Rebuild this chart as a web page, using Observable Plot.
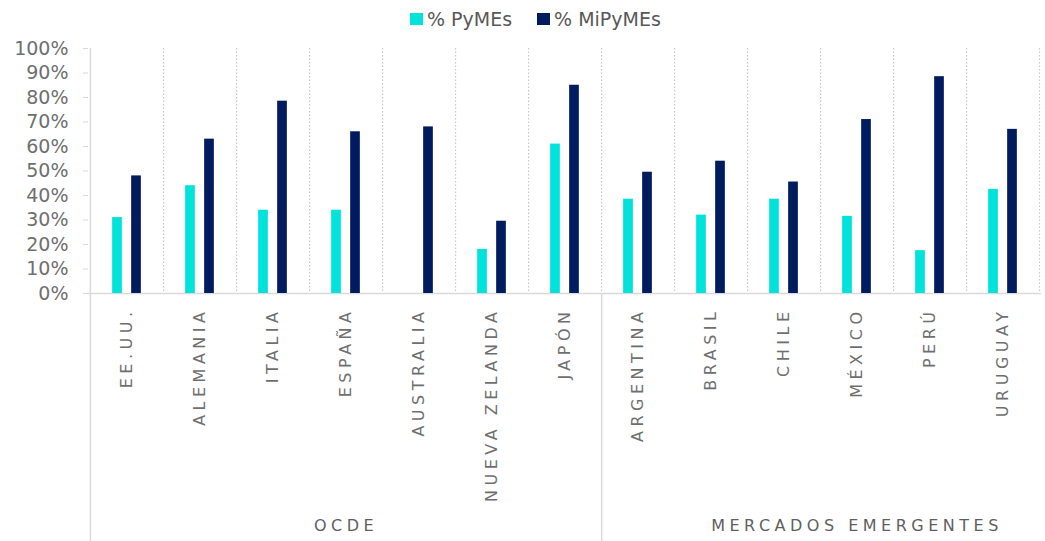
<!DOCTYPE html>
<html>
<head>
<meta charset="utf-8">
<script src="https://cdn.jsdelivr.net/npm/d3@7"></script>
<script src="https://cdn.jsdelivr.net/npm/@observablehq/plot@0.6"></script>
<style>
  html, body { margin: 0; padding: 0; background: #fff; }
  body { width: 1045px; height: 541px; overflow: hidden; font-family: "DejaVu Sans", sans-serif; }
  .legend { height: 30px; padding-top: 8px; display: flex; align-items: center; padding-left: 410px; box-sizing: border-box; font-size: 19px; color: #595959; }
  .legend .item { display: flex; align-items: center; margin-right: 25px; }
  .legend .sw { width: 13px; height: 12px; margin-right: 4px; }
  #chart svg [aria-label="x-axis tick label"] text,
  #chart svg .group-label text { letter-spacing: 4.5px; }
</style>
</head>
<body>
<div class="legend" id="legend"></div>
<div id="chart"></div>
<script>
// Countries along the category axis, in display order
const countries = ["EE.UU.", "ALEMANIA", "ITALIA", "ESPAÑA", "AUSTRALIA", "NUEVA ZELANDA", "JAPÓN",
                   "ARGENTINA", "BRASIL", "CHILE", "MÉXICO", "PERÚ", "URUGUAY"];
// Outer category groups and how many countries each one covers
const groupNames = ["OCDE", "MERCADOS EMERGENTES"];
const groupSizes = [7, 6];
// Series values (%)
const seriesNames = ["% PyMEs", "% MiPyMEs"];
const pymes   = [31, 44, 34, 34, null, 18, 61, 38.5, 32, 38.5, 31.5, 17.5, 42.5];
const mipymes = [48, 63, 78.5, 66, 68, 29.5, 85, 49.5, 54, 45.5, 71, 88.5, 67];
// Value-axis ticks
const yTicks = [0, 10, 20, 30, 40, 50, 60, 70, 80, 90, 100];

const colors = ["#00e3db", "#001c5e"];
const gridColor = "#d9d9d9";
const textColor = "#6f6f6f";

const W = 1045, H = 511;
const mTop = 18, mBottom = 248, mLeft = 88, mRight = 4;
const plotH = H - mTop - mBottom;
const bw = (W - mLeft - mRight) / countries.length;   // band width
const barW = 10, barOffset = 9.5;                        // bar width, offset of each bar from band centre

const rows = [];
countries.forEach((c, i) => {
  if (pymes[i] != null) rows.push({country: c, series: seriesNames[0], value: pymes[i]});
  if (mipymes[i] != null) rows.push({country: c, series: seriesNames[1], value: mipymes[i]});
});

// Group label sits under the middle country of each group; boundaries after each group's last country
const groupRows = [];
let start = 0;
groupNames.forEach((g, k) => {
  groupRows.push({name: g, anchor: countries[start + Math.floor(groupSizes[k] / 2)], last: countries[start + groupSizes[k] - 1]});
  start += groupSizes[k];
});

function seriesBar(k) {
  const centre = (k === 0 ? -barOffset : barOffset);
  return Plot.barY(rows.filter(d => d.series === seriesNames[k]), {
    x: "country", y: "value", fill: colors[k],
    insetLeft: bw / 2 + centre - barW / 2,
    insetRight: bw / 2 - centre - barW / 2
  });
}

const chart = Plot.plot({
  width: W, height: H,
  marginTop: mTop, marginBottom: mBottom, marginLeft: mLeft, marginRight: mRight,
  style: {fontFamily: "DejaVu Sans, sans-serif", background: "#fff"},
  x: {type: "band", domain: countries, padding: 0, axis: null, label: null},
  y: {domain: [0, 100], axis: null, label: null},
  marks: [
    // dotted separators between countries
    Plot.ruleX(countries, {x: d => d, dx: bw / 2, stroke: "#bdbdbd", strokeDasharray: "1.5,2", strokeWidth: 1}),
    // value axis line, continued down through the category labels
    Plot.ruleX([countries[0]], {x: d => d, dx: -bw / 2, stroke: gridColor, strokeWidth: 1.5, insetBottom: -mBottom}),
    // solid boundary between groups, below the category axis
    Plot.ruleX(groupRows.slice(0, -1), {x: "last", dx: bw / 2, stroke: gridColor, strokeWidth: 1.5, insetTop: plotH, insetBottom: -mBottom}),
    Plot.ruleY([0], {stroke: gridColor, strokeWidth: 1.5}),
    seriesBar(0),
    seriesBar(1),
    Plot.axisY({ticks: yTicks, tickFormat: d => d + "%", tickSize: 5, tickPadding: 15, label: null,
                fontSize: 19, stroke: gridColor, fill: textColor}),
    Plot.axisX({tickRotate: -90, tickSize: 0, tickPadding: 14, fontSize: 16, fill: textColor, label: null}),
    Plot.text(groupRows, {x: "anchor", text: "name", frameAnchor: "bottom", dy: 237,
                          fontSize: 16, fill: "#5f5f5f", className: "group-label"})
  ]
});
document.getElementById("chart").appendChild(chart);

// legend
const legend = d3.select("#legend");
seriesNames.forEach((name, k) => {
  const item = legend.append("div").attr("class", "item");
  item.append("div").attr("class", "sw").style("background", colors[k]);
  item.append("span").text(name);
});
</script>
</body>
</html>
